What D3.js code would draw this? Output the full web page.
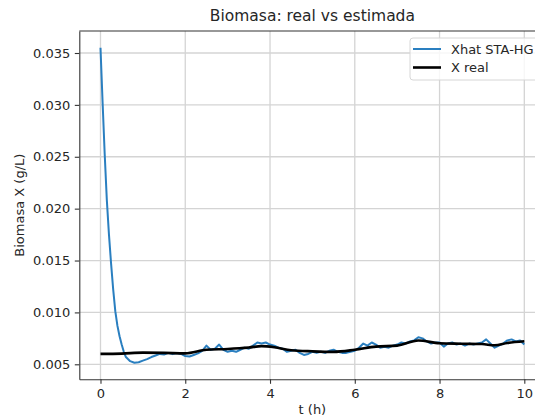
<!DOCTYPE html>
<html lang="en">
<head>
    <meta charset="UTF-8">
    <script src="https://cdnjs.cloudflare.com/ajax/libs/d3/7.9.0/d3.min.js"></script>
    <title>Biomasa</title>
    <style>
        body {
            margin: 0;
            padding: 0;
            background: white;
            font-family: "DejaVu Sans", sans-serif;
        }
        svg { display: block; }
        .axis text { font-family: "DejaVu Sans", sans-serif; font-size: 13px; fill: #262626; }
        .axis path, .axis line { stroke: #333; stroke-width: 1.1; }
    </style>
</head>
<body>
<div id="chart"></div>
<script>
    // X real (smooth)
    const tReal = [0, 0.5, 1.0, 1.5, 2.0, 2.5, 3.0, 3.5, 3.8, 4.1, 4.5, 5.0, 5.5, 6.0, 6.5, 7.0, 7.5, 8.0, 8.5, 9.0, 9.3, 9.6, 10.0];
    const xReal = [0.0060, 0.00603, 0.00612, 0.0061, 0.00605, 0.0064, 0.00648, 0.00662, 0.00675, 0.00665, 0.00635, 0.00625, 0.0062, 0.0064, 0.0067, 0.0068, 0.0073, 0.00703, 0.00698, 0.00695, 0.00683, 0.00705, 0.00722];

    // Xhat STA-HG (estimate)
    const tHat = [0, 0.05, 0.1, 0.15, 0.2, 0.25, 0.3, 0.35, 0.4, 0.45, 0.5, 0.55, 0.6, 0.7, 0.8, 0.9,
        1.0, 1.1, 1.2, 1.3, 1.4, 1.5, 1.6, 1.7, 1.8, 1.9,
        2.0, 2.1, 2.2, 2.3, 2.4, 2.5, 2.6, 2.7, 2.8, 2.9,
        3.0, 3.1, 3.2, 3.3, 3.4, 3.5, 3.6, 3.7, 3.8, 3.9,
        4.0, 4.1, 4.2, 4.3, 4.4, 4.5, 4.6, 4.7, 4.8, 4.9,
        5.0, 5.1, 5.2, 5.3, 5.4, 5.5, 5.6, 5.7, 5.8, 5.9,
        6.0, 6.1, 6.2, 6.3, 6.4, 6.5, 6.6, 6.7, 6.8, 6.9,
        7.0, 7.1, 7.2, 7.3, 7.4, 7.5, 7.6, 7.7, 7.8, 7.9,
        8.0, 8.1, 8.2, 8.3, 8.4, 8.5, 8.6, 8.7, 8.8, 8.9,
        9.0, 9.1, 9.2, 9.3, 9.4, 9.5, 9.6, 9.7, 9.8, 9.9, 10.0];
    const xHat = [0.0355, 0.0302, 0.0252, 0.0208, 0.0175, 0.0147, 0.0122, 0.0101, 0.0087, 0.0077, 0.0069, 0.0062, 0.0057, 0.0053, 0.00515, 0.0052,
        0.00535, 0.0055, 0.0057, 0.00585, 0.0060, 0.00595, 0.0061, 0.00598, 0.00608, 0.0060,
        0.0058, 0.00575, 0.0059, 0.00605, 0.0063, 0.0068, 0.0064, 0.0065, 0.0069, 0.0064,
        0.0062, 0.0063, 0.0062, 0.0064, 0.0066, 0.0065, 0.0068, 0.0071, 0.0070, 0.0071,
        0.0069, 0.0068, 0.0066, 0.0065, 0.0062, 0.0063, 0.0064, 0.0061, 0.0059, 0.0060,
        0.0062, 0.0061, 0.0062, 0.0061, 0.0063, 0.0064, 0.0062, 0.0061, 0.0061, 0.0062,
        0.0063, 0.0066, 0.0070, 0.0068, 0.0071, 0.0069, 0.0066, 0.0067, 0.0066, 0.0068,
        0.0069, 0.0071, 0.0070, 0.0072, 0.0073, 0.0076, 0.0075, 0.0072, 0.0070, 0.0071,
        0.0071, 0.0067, 0.0070, 0.0071, 0.0069, 0.0070, 0.0068, 0.0070, 0.0069, 0.0070,
        0.0071, 0.0074, 0.0070, 0.0066, 0.0068, 0.0070, 0.0073, 0.0074, 0.0072, 0.0073, 0.0069];

    const xTicks = [0, 2, 4, 6, 8, 10];
    const yTicks = [0.005, 0.010, 0.015, 0.020, 0.025, 0.030, 0.035];

    const width = 535, height = 417;
    const plotLeft = 79.3, plotRight = 545.5, plotTop = 31, plotBottom = 379.3;

    const svg = d3.select("#chart").append("svg")
        .attr("width", width).attr("height", height);

    const x = d3.scaleLinear().domain([-0.5, 10.5]).range([plotLeft, plotRight]);
    const y = d3.scaleLinear().domain([0.003554, 0.03712]).range([plotBottom, plotTop]);

    // grid
    svg.append("g").selectAll("line").data(xTicks).join("line")
        .attr("x1", d => x(d)).attr("x2", d => x(d))
        .attr("y1", plotTop).attr("y2", plotBottom)
        .attr("stroke", "#d4d4d4").attr("stroke-width", 1.3);
    svg.append("g").selectAll("line").data(yTicks).join("line")
        .attr("x1", plotLeft).attr("x2", plotRight)
        .attr("y1", d => y(d)).attr("y2", d => y(d))
        .attr("stroke", "#d4d4d4").attr("stroke-width", 1.3);

    // axes
    svg.append("g").attr("class", "axis")
        .attr("transform", `translate(0,${plotBottom})`)
        .call(d3.axisBottom(x).tickValues(xTicks).tickFormat(d3.format("d"))
            .tickSize(4.5).tickPadding(4.5).tickSizeOuter(0));
    svg.append("g").attr("class", "axis")
        .attr("transform", `translate(${plotLeft},0)`)
        .call(d3.axisLeft(y).tickValues(yTicks).tickFormat(d3.format(".3f"))
            .tickSize(4.5).tickPadding(4.5).tickSizeOuter(0));
    // top spine
    svg.append("line")
        .attr("x1", plotLeft).attr("x2", plotRight).attr("y1", plotTop).attr("y2", plotTop)
        .attr("stroke", "#333").attr("stroke-width", 1.1);

    // lines
    const hatLine = d3.line().x((d, i) => x(tHat[i])).y(d => y(d));
    svg.append("path").datum(xHat)
        .attr("d", hatLine)
        .attr("fill", "none").attr("stroke", "#2a7fc0").attr("stroke-width", 2)
        .attr("stroke-linejoin", "round");

    const realLine = d3.line().x((d, i) => x(tReal[i])).y(d => y(d)).curve(d3.curveMonotoneX);
    svg.append("path").datum(xReal)
        .attr("d", realLine)
        .attr("fill", "none").attr("stroke", "black").attr("stroke-width", 2.6);

    // title and labels
    svg.append("text")
        .attr("x", (plotLeft + plotRight) / 2).attr("y", 21)
        .attr("text-anchor", "middle")
        .attr("font-size", 15.5).attr("fill", "#262626")
        .text("Biomasa: real vs estimada");
    svg.append("text")
        .attr("transform", `translate(24,${(plotTop + plotBottom) / 2}) rotate(-90)`)
        .attr("text-anchor", "middle")
        .attr("font-size", 13).attr("fill", "#262626")
        .text("Biomasa X (g/L)");
    svg.append("text")
        .attr("x", (plotLeft + plotRight) / 2).attr("y", 414)
        .attr("text-anchor", "middle")
        .attr("font-size", 13).attr("fill", "#262626")
        .text("t (h)");

    // legend
    const legend = svg.append("g");
    legend.append("rect")
        .attr("x", 410).attr("y", 38).attr("width", 132).attr("height", 42)
        .attr("rx", 3).attr("fill", "white").attr("fill-opacity", 0.8)
        .attr("stroke", "#d6d6d6").attr("stroke-width", 1);
    const entries = [
        { label: "Xhat STA-HG", color: "#2a7fc0", w: 2 },
        { label: "X real", color: "black", w: 2.6 }
    ];
    entries.forEach((e, i) => {
        const yy = 49 + i * 18.5;
        legend.append("line")
            .attr("x1", 413).attr("x2", 441).attr("y1", yy).attr("y2", yy)
            .attr("stroke", e.color).attr("stroke-width", e.w);
        legend.append("text")
            .attr("x", 451).attr("y", yy + 4.6)
            .attr("font-size", 13).attr("fill", "#262626")
            .text(e.label);
    });
</script>
</body>
</html>
